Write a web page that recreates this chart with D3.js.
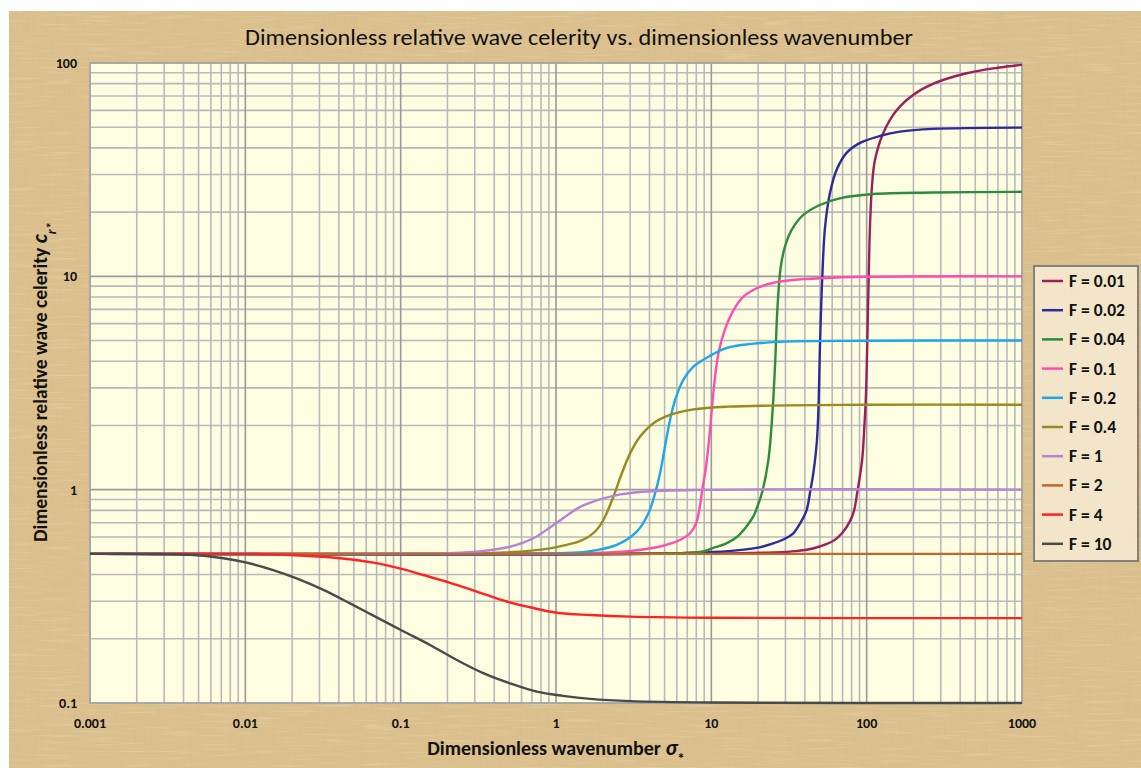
<!DOCTYPE html>
<html>
<head>
<meta charset="utf-8">
<title>Dimensionless relative wave celerity</title>
<script src="https://cdn.jsdelivr.net/npm/d3@7"></script>
<style>
  html, body { margin: 0; padding: 0; background: #ffffff; }
  svg { display: block; }
  text { font-family: Carlito, Calibri, Lato, "Open Sans", sans-serif; fill: #111; }
</style>
</head>
<body>
<script>
var w = 1141;
var h = 768;
var plot = {left: 90, right: 1022, top: 63, bottom: 703};

// readings: [sigma, c]
var curveF001 = [[0.001,0.5],[10,0.502],[25,0.508],[35,0.515],[45,0.53],[55,0.555],[62,0.58],[70,0.63],[78,0.71],[83,0.8],[87,0.97],[93.5,1.38],[96.6,1.97],[99,2.8],[100.5,4.2],[102.5,8.3],[105,17],[108,26],[113,35],[128,47],[156,60],[200,71],[269,80],[440,89.5],[700,95],[1000,98]];
var curveF002 = [[0.001,0.5],[5,0.502],[14,0.518],[20,0.535],[25,0.56],[30,0.59],[33.7,0.624],[37.5,0.7],[41,0.8],[43.5,1.0],[45.4,1.2],[47.7,1.65],[48.9,2.36],[50.1,4.85],[51.8,9.96],[54,17.1],[58,24.5],[64,31.5],[74,37.8],[90,42.1],[122,45.5],[164,47.7],[269,49.1],[1000,49.8]];
var curveF004 = [[0.001,0.5],[3,0.502],[8.45,0.51],[10.3,0.533],[12.5,0.56],[14.6,0.6],[16.5,0.66],[18.6,0.747],[20,0.85],[21.3,0.98],[23.3,1.38],[24.8,2.36],[25.8,4.05],[26.6,6.95],[28,11.1],[29.8,13.8],[32.9,16.5],[39.1,19.4],[50,21.6],[67,23.2],[110,24.3],[269,24.7],[1000,24.9]];
var curveF01 = [[0.001,0.5],[1,0.502],[2.71,0.512],[4.45,0.537],[5.5,0.56],[6.28,0.581],[7.3,0.625],[8.0,0.7],[8.4,0.82],[8.75,1.0],[9.2,1.25],[9.7,1.75],[10.3,2.83],[11.1,4.35],[12.2,5.6],[13.9,6.95],[16.1,8.03],[19.6,8.79],[25.1,9.33],[33.7,9.61],[50,9.79],[100,9.95],[1000,10]];
var curveF02 = [[0.001,0.5],[0.5,0.501],[1.06,0.504],[1.58,0.512],[2.46,0.551],[3.31,0.636],[3.93,0.774],[4.34,0.96],[4.67,1.19],[5.03,1.59],[5.42,2.12],[5.84,2.63],[6.6,3.27],[7.66,3.77],[10,4.27],[12.6,4.62],[22.7,4.89],[100,4.99],[1000,5]];
var curveF04 = [[0.001,0.5],[0.2,0.501],[0.436,0.506],[0.915,0.531],[1.17,0.551],[1.37,0.568],[1.58,0.595],[1.8,0.64],[2.02,0.721],[2.34,0.927],[2.65,1.19],[3.0,1.48],[3.47,1.77],[4.24,2.05],[5.42,2.24],[7.66,2.38],[12.6,2.45],[100,2.5],[1000,2.5]];
var curveF1 = [[0.001,0.5],[0.1,0.501],[0.208,0.504],[0.34,0.516],[0.531,0.545],[0.715,0.592],[0.915,0.665],[1.11,0.735],[1.43,0.83],[1.92,0.9],[2.6,0.95],[3.65,0.978],[7.66,0.997],[1000,1]];
var curveF2 = [[0.001,0.5],[1,0.5],[1000,0.5]];
var curveF4 = [[0.001,0.5],[0.01,0.5],[0.0194,0.494],[0.0407,0.477],[0.0667,0.455],[0.1015,0.425],[0.14,0.398],[0.208,0.366],[0.309,0.333],[0.481,0.299],[0.681,0.281],[1.01,0.265],[1.66,0.2585],[3,0.254],[10,0.251],[1000,0.25]];
var curveF10 = [[0.001,0.5],[0.002,0.5],[0.00441,0.495],[0.00721,0.477],[0.0102,0.455],[0.0151,0.42],[0.0214,0.384],[0.0318,0.339],[0.0472,0.293],[0.0701,0.252],[0.104,0.217],[0.1545,0.187],[0.2297,0.159],[0.34,0.138],[0.506,0.1236],[0.752,0.113],[1.11,0.108],[1.66,0.1045],[3,0.102],[10,0.1005],[1000,0.1]];

var curves = [curveF001, curveF002, curveF004, curveF01, curveF02, curveF04, curveF1, curveF2, curveF4, curveF10];
var legendLabels = ["F = 0.01", "F = 0.02", "F = 0.04", "F = 0.1", "F = 0.2", "F = 0.4", "F = 1", "F = 2", "F = 4", "F = 10"];
var colors = ["#9c1f5c", "#2f2a98", "#2e8a3e", "#ff4db2", "#1ea7e8", "#958b1f", "#b584d2", "#c2672a", "#ff2222", "#4a4a4a"];

var xTicks = [0.001, 0.01, 0.1, 1, 10, 100, 1000];
var xTickLabels = ["0.001", "0.01", "0.1", "1", "10", "100", "1000"];
var yTicks = [0.1, 1, 10, 100];
var yTickLabels = ["0.1", "1", "10", "100"];

var x = d3.scaleLog().domain([0.001, 1000]).range([plot.left, plot.right]);
var y = d3.scaleLog().domain([0.1, 100]).range([plot.bottom, plot.top]);

var svg = d3.select("body").append("svg")
    .attr("width", w)
    .attr("height", h);

var defs = svg.append("defs");
var tex = defs.append("filter").attr("id", "burlap")
    .attr("x", 0).attr("y", 0).attr("width", "100%").attr("height", "100%");
tex.append("feTurbulence").attr("type", "fractalNoise")
    .attr("baseFrequency", "0.55 0.025").attr("numOctaves", 2).attr("seed", 4).attr("result", "n1");
tex.append("feColorMatrix").attr("in", "n1").attr("type", "matrix")
    .attr("values", "0 0 0 0 0.62  0 0 0 0 0.48  0 0 0 0 0.26  1.6 0 0 0 -0.75").attr("result", "c1");
tex.append("feTurbulence").attr("type", "fractalNoise")
    .attr("baseFrequency", "0.025 0.55").attr("numOctaves", 2).attr("seed", 9).attr("result", "n2");
tex.append("feColorMatrix").attr("in", "n2").attr("type", "matrix")
    .attr("values", "0 0 0 0 0.95  0 0 0 0 0.86  0 0 0 0 0.66  1.4 0 0 0 -0.75").attr("result", "c2");
var merge = tex.append("feMerge");
merge.append("feMergeNode").attr("in", "c1");
merge.append("feMergeNode").attr("in", "c2");

// textured backdrop
svg.append("rect")
    .attr("x", 9).attr("y", 11)
    .attr("width", w - 9).attr("height", h - 11)
    .attr("fill", "#dbc08d");
svg.append("rect")
    .attr("x", 9).attr("y", 11)
    .attr("width", w - 9).attr("height", h - 11)
    .attr("fill", "#fff")
    .attr("filter", "url(#burlap)")
    .attr("opacity", 0.5);

svg.append("text")
    .attr("x", 579).attr("y", 45)
    .attr("text-anchor", "middle")
    .attr("font-size", 22)
    .attr("textLength", 668)
    .attr("lengthAdjust", "spacingAndGlyphs")
    .text("Dimensionless relative wave celerity vs. dimensionless wavenumber");

svg.append("rect")
    .attr("x", plot.left).attr("y", plot.top)
    .attr("width", plot.right - plot.left).attr("height", plot.bottom - plot.top)
    .attr("fill", "#fdfde2");

// grid lines: every 1..9 of each decade
var xGrid = [];
xTicks.slice(0, -1).forEach(function(d) {
  for (var k = 2; k <= 9; k++) xGrid.push(d * k);
});
var yGrid = [];
yTicks.slice(0, -1).forEach(function(d) {
  for (var k = 2; k <= 9; k++) yGrid.push(d * k);
});

var grid = svg.append("g");
grid.selectAll(".xminor").data(xGrid).enter().append("line")
    .attr("x1", function(d) { return x(d); }).attr("x2", function(d) { return x(d); })
    .attr("y1", plot.top).attr("y2", plot.bottom)
    .attr("stroke", "#b9b9b9").attr("stroke-width", 1.6);
grid.selectAll(".yminor").data(yGrid).enter().append("line")
    .attr("y1", function(d) { return y(d); }).attr("y2", function(d) { return y(d); })
    .attr("x1", plot.left).attr("x2", plot.right)
    .attr("stroke", "#b9b9b9").attr("stroke-width", 1.6);
grid.selectAll(".xmajor").data(xTicks).enter().append("line")
    .attr("x1", function(d) { return x(d); }).attr("x2", function(d) { return x(d); })
    .attr("y1", plot.top).attr("y2", plot.bottom)
    .attr("stroke", "#9a9a9a").attr("stroke-width", 1.6);
grid.selectAll(".ymajor").data(yTicks).enter().append("line")
    .attr("y1", function(d) { return y(d); }).attr("y2", function(d) { return y(d); })
    .attr("x1", plot.left).attr("x2", plot.right)
    .attr("stroke", "#9a9a9a").attr("stroke-width", 1.6);

svg.append("rect")
    .attr("x", plot.left).attr("y", plot.top)
    .attr("width", plot.right - plot.left).attr("height", plot.bottom - plot.top)
    .attr("fill", "none").attr("stroke", "#a8a8a8").attr("stroke-width", 1.5);

// tick labels
svg.selectAll(".xlab").data(xTicks).enter().append("text")
    .attr("x", function(d) { return x(d); })
    .attr("y", 728)
    .attr("text-anchor", "middle")
    .attr("font-size", 14).attr("font-weight", "bold")
    .text(function(d, i) { return xTickLabels[i]; });

svg.selectAll(".ylab").data(yTicks).enter().append("text")
    .attr("x", 77)
    .attr("y", function(d) { return y(d) + 5; })
    .attr("text-anchor", "end")
    .attr("font-size", 14).attr("font-weight", "bold")
    .text(function(d, i) { return yTickLabels[i]; });

// curves
var line = d3.line()
    .x(function(d) { return x(d[0]); })
    .y(function(d) { return y(d[1]); })
    .curve(d3.curveCatmullRom.alpha(0.5));

svg.append("g").selectAll("path")
    .data(curves).enter().append("path")
    .attr("d", line)
    .attr("fill", "none")
    .attr("stroke", function(d, i) { return colors[i]; })
    .attr("stroke-width", 2.4);

// legend
var legend = svg.append("g");
legend.append("rect")
    .attr("x", 1034).attr("y", 266)
    .attr("width", 104).attr("height", 295)
    .attr("fill", "#f4e9cf").attr("fill-opacity", 0.9)
    .attr("stroke", "#808080").attr("stroke-width", 2);

var rows = legend.selectAll(".row").data(legendLabels).enter().append("g")
    .attr("transform", function(d, i) { return "translate(0," + (281 + i * 29.2) + ")"; });
rows.append("line")
    .attr("x1", 1042).attr("x2", 1063)
    .attr("stroke", function(d, i) { return colors[i]; })
    .attr("stroke-width", 2.5);
rows.append("text")
    .attr("x", 1069).attr("y", 6)
    .attr("font-size", 17.5).attr("font-weight", "bold")
    .text(function(d) { return d; });

// axis titles
var yTitle = svg.append("text")
    .attr("transform", "translate(47,382) rotate(-90)")
    .attr("text-anchor", "middle")
    .attr("font-size", 19.5).attr("font-weight", "bold");
yTitle.append("tspan").text("Dimensionless relative wave celerity ");
yTitle.append("tspan").attr("font-style", "italic").attr("font-size", 22).text("c");
yTitle.append("tspan").attr("font-style", "italic").attr("font-size", 14)
    .attr("baseline-shift", "sub").text("r*");

var xTitle = svg.append("text")
    .attr("x", 556).attr("y", 755)
    .attr("text-anchor", "middle")
    .attr("font-size", 20).attr("font-weight", "bold");
xTitle.append("tspan").text("Dimensionless wavenumber ");
xTitle.append("tspan").attr("font-style", "italic").attr("font-size", 22).text("σ");
xTitle.append("tspan").attr("font-size", 15)
    .attr("baseline-shift", "sub").text("*");
</script>
</body>
</html>
